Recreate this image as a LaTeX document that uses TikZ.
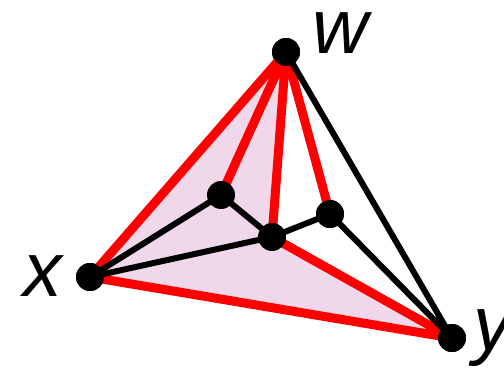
\documentclass[tikz,border=0pt]{standalone}
\usepackage{fontspec}
\setmainfont{Liberation Sans}
\definecolor{pinkfill}{RGB}{240,216,234}
\begin{document}
\begin{tikzpicture}[x=0.02cm,y=-0.02cm,
dot/.style={circle,fill=black,inner sep=0pt,minimum size=0.56cm},
redge/.style={red,line width=0.18cm},
bedge/.style={black,line width=0.12cm},
lbl/.style={font=\fontsize{44}{44}\selectfont\itshape,inner sep=0pt}]
\useasboundingbox(0,0)rectangle(504,375);
\node[dot](w)at(286,52){};
\node[dot](x)at(90,277){};
\node[dot](y)at(452,338){};
\node[dot](a)at(221,195){};
\node[dot](b)at(272,237){};
\node[dot](c)at(330,214){};
%%
\fill[pinkfill](w.center)--(x.center)--(y.center)--(b.center)--cycle;
\draw[redge,line join=round](w.center)--(x.center)--(y.center);
\draw[redge](w.center)--(a.center)
(w.center)--(b.center)
(w.center)--(c.center)
(b.center)--(y.center);
\draw[bedge](w.center)--(y.center)
(x.center)--(a.center)--(b.center)--(c.center)--(y.center)
(x.center)--(b.center);
\foreach \n in {w,x,y,a,b,c}\node[dot]at(\n){};
\node[lbl](lw)at(340,33){w};
\node[lbl](lx)at(43,276){x};
\node[lbl](ly)at(493,338){y};
\end{tikzpicture}
\end{document}
